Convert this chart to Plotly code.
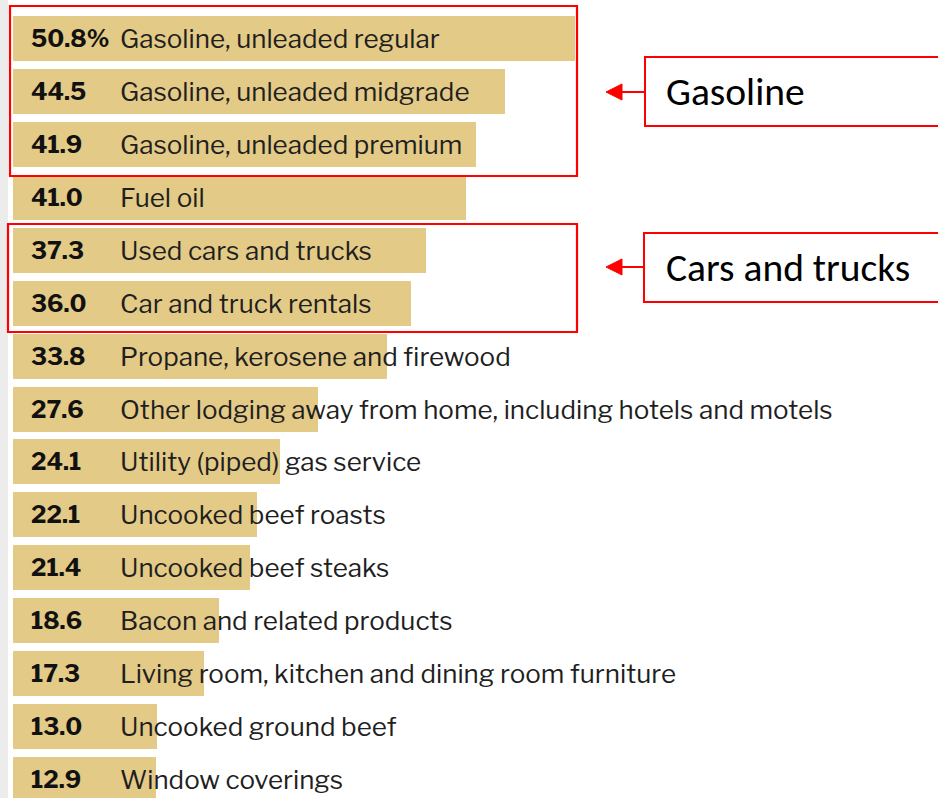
import plotly.graph_objects as go

categories = [
    "Gasoline, unleaded regular",
    "Gasoline, unleaded midgrade",
    "Gasoline, unleaded premium",
    "Fuel oil",
    "Used cars and trucks",
    "Car and truck rentals",
    "Propane, kerosene and firewood",
    "Other lodging away from home, including hotels and motels",
    "Utility (piped) gas service",
    "Uncooked beef roasts",
    "Uncooked beef steaks",
    "Bacon and related products",
    "Living room, kitchen and dining room furniture",
    "Uncooked ground beef",
    "Window coverings",
]
values = [50.8, 44.5, 41.9, 41.0, 37.3, 36.0, 33.8, 27.6, 24.1, 22.1, 21.4, 18.6, 17.3, 13.0, 12.9]
value_labels = ["50.8%", "44.5", "41.9", "41.0", "37.3", "36.0", "33.8", "27.6", "24.1",
                "22.1", "21.4", "18.6", "17.3", "13.0", "12.9"]
group_names = ["Gasoline", "Cars and trucks"]

W, H = 938, 798
X0PX = 13.0          # pixel of value 0
PXPU = 11.06         # pixels per unit
Y0PX = 38.5          # center of first bar
STEP = 52.93         # px between bars
BARPX = 45.0

positions = list(range(len(categories)))

def px2x(px):
    return (px - X0PX) / PXPU

def py2paper(py):
    return 1 - py / H

fig = go.Figure()
fig.add_trace(go.Bar(
    x=values, y=positions, orientation="h",
    marker=dict(color="#e3ca86", line=dict(width=0)),
    width=BARPX / STEP, hoverinfo="skip",
))

annotations = []
for i, (v, lab, cat) in enumerate(zip(values, value_labels, categories)):
    annotations.append(dict(x=px2x(28.5), y=i, xref="x", yref="y", text=lab,
                            showarrow=False, xanchor="left", yanchor="middle",
                            font=dict(family="Libre Franklin, Roboto, Arial", size=24, color="#111111",
                                      weight="bold")))
    annotations.append(dict(x=px2x(117.5), y=i, xref="x", yref="y", text=cat,
                            showarrow=False, xanchor="left", yanchor="middle",
                            font=dict(family="Libre Franklin, Noto Sans, Arial", size=26.0, color="#1f1f1f")))

shapes = []
# gray strip at left
shapes.append(dict(type="rect", xref="paper", yref="paper", x0=0, x1=8 / W, y0=0, y1=1,
                   fillcolor="#ececec", line=dict(width=0), layer="below"))

# group boxes
box_px = [(10, 577, 6, 176), (8, 577, 224, 332)]
label_px = [(645, 945, 57, 126, 92), (644, 945, 233, 302, 267)]
for (bx0, bx1, by0, by1), (lx0, lx1, ly0, ly1, ay), name in zip(box_px, label_px, group_names):
    shapes.append(dict(type="rect", xref="paper", yref="paper",
                       x0=bx0 / W, x1=bx1 / W, y0=py2paper(by1), y1=py2paper(by0),
                       line=dict(color="#ff0000", width=2.2), fillcolor="rgba(0,0,0,0)"))
    shapes.append(dict(type="rect", xref="paper", yref="paper",
                       x0=lx0 / W, x1=lx1 / W, y0=py2paper(ly1), y1=py2paper(ly0),
                       line=dict(color="#ff0000", width=2), fillcolor="white"))
    shapes.append(dict(type="line", xref="paper", yref="paper",
                       x0=lx0 / W, x1=620 / W, y0=py2paper(ay), y1=py2paper(ay),
                       line=dict(color="#ff0000", width=2)))
    path = "M {:.5f},{:.5f} L {:.5f},{:.5f} L {:.5f},{:.5f} Z".format(
        606 / W, py2paper(ay), 622 / W, py2paper(ay - 8), 622 / W, py2paper(ay + 8))
    shapes.append(dict(type="path", xref="paper", yref="paper", path=path,
                       fillcolor="#ff0000", line=dict(color="#ff0000", width=1)))
    annotations.append(dict(x=664 / W, y=py2paper((ly0 + ly1) / 2), xref="paper", yref="paper",
                            text=name, showarrow=False, xanchor="left", yanchor="middle",
                            font=dict(family="Carlito, Open Sans, Arial", size=39.5, color="#000000")))

fig.update_layout(
    width=W, height=H,
    margin=dict(l=0, r=0, t=0, b=0),
    paper_bgcolor="white", plot_bgcolor="white",
    showlegend=False,
    xaxis=dict(range=[px2x(0), px2x(W)], visible=False, fixedrange=True),
    yaxis=dict(range=[(H - Y0PX) / STEP, -Y0PX / STEP], visible=False, fixedrange=True),
    shapes=shapes, annotations=annotations,
    bargap=0,
)

fig.write_html(
    "out.html",
    config={"displayModeBar": False},
    post_script="document.body.style.margin='0';document.body.style.overflow='hidden';",
)
